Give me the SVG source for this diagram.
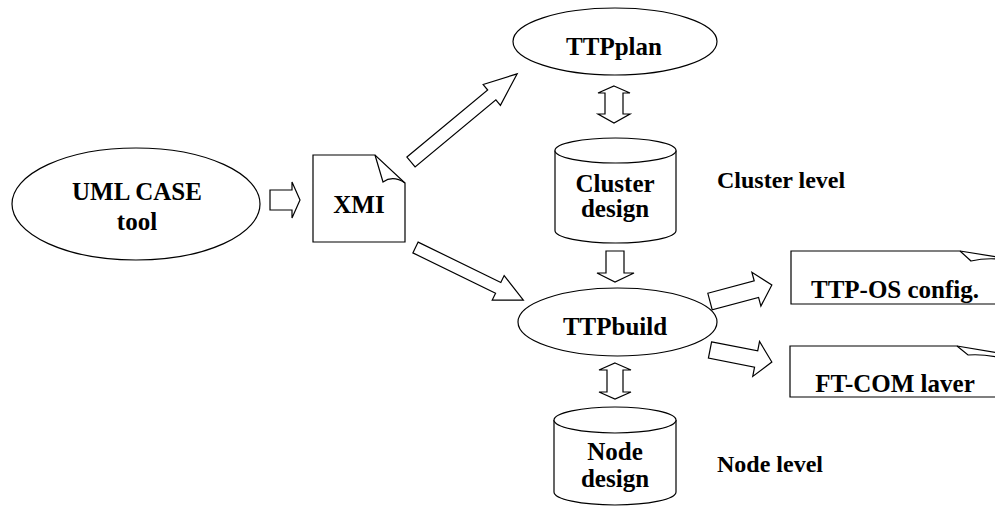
<svg xmlns="http://www.w3.org/2000/svg" width="995" height="506" viewBox="0 0 995 506">
<style>
.s{fill:#fff;stroke:#000;stroke-width:1.2;stroke-linejoin:miter}
.f{fill:none;stroke:#000;stroke-width:1.2}
text{font-family:'Liberation Serif','Times New Roman',Tinos,'DejaVu Serif',serif;font-weight:bold;fill:#000}
.t{font-size:25px;text-anchor:middle}
.l{font-size:24px}
</style>
<rect width="995" height="506" fill="#fff"/>
<g id="connectors">
<polygon class="s" points="0,-10 22,-10 22,-18 30,0 22,18 22,10 0,10" transform="translate(270,200)"/>
<polygon class="s" points="0,-6.4 105,-6.4 105,-13.5 138,0 105,13.5 105,6.4 0,6.4" transform="translate(411,162) rotate(-39.7)"/>
<polygon class="s" points="0,-6 92,-6 92,-13.6 120,0 92,13.6 92,6 0,6" transform="translate(415.5,247.5) rotate(26)"/>
<polygon class="s" points="0,-8.5 48,-8.5 48,-17.5 64,0 48,17.5 48,8.5 0,8.5" transform="translate(710,301.5) rotate(-14.9)"/>
<polygon class="s" points="0,-8.3 47,-8.3 47,-17.8 63,0 47,17.8 47,8.3 0,8.3" transform="translate(710,350) rotate(11)"/>
<polygon class="s" points="614,86 630,93 623,93 623,114 630,114 614,123 598,114 605,114 605,93 598,93"/>
<polygon class="s" points="606,251 624,251 624,273 634,273 615,282 597,273 606,273"/>
<polygon class="s" points="615,363 631,370 623,370 623,392 631,392 615,399 599,392 607,392 607,370 599,370"/>
</g>
<g id="uml">
<ellipse class="s" cx="136" cy="204" rx="124" ry="56"/>
<text class="t" x="137" y="200" font-family="Liberation Serif, serif">UML CASE</text>
<text class="t" x="137" y="230" font-family="Liberation Serif, serif">tool</text>
</g>
<g id="xmi">
<path class="s" d="M313,155 L375,155 L405,183 L405,242 L313,242 Z"/>
<path class="f" d="M375,155 L383,182 Q393,175 405,183"/>
<text class="t" x="359" y="213" font-family="Liberation Serif, serif">XMI</text>
</g>
<g id="ttpplan">
<ellipse class="s" cx="615" cy="41.5" rx="102" ry="33.5"/>
<text class="t" x="614" y="55" font-family="Liberation Serif, serif">TTPplan</text>
</g>
<g id="cluster">
<path class="s" d="M555,150.5 L555,230.5 A60.5,12.5 0 0 0 676,230.5 L676,150.5"/>
<ellipse class="s" cx="615.5" cy="150.5" rx="60.5" ry="12.5"/>
<text class="t" x="615" y="192" font-family="Liberation Serif, serif">Cluster</text>
<text class="t" x="615" y="217" font-family="Liberation Serif, serif">design</text>
</g>
<g id="cluster-level">
<text class="l" x="717" y="188" font-family="Liberation Serif, serif">Cluster level</text>
</g>
<g id="ttpbuild">
<ellipse class="s" cx="617.5" cy="322" rx="99.5" ry="34"/>
<text class="t" x="615" y="335" font-family="Liberation Serif, serif">TTPbuild</text>
</g>
<g id="node">
<path class="s" d="M554,420 L554,492 A61,13 0 0 0 676,492 L676,420"/>
<ellipse class="s" cx="615" cy="420" rx="61" ry="13"/>
<text class="t" x="615" y="460" font-family="Liberation Serif, serif">Node</text>
<text class="t" x="615" y="487" font-family="Liberation Serif, serif">design</text>
</g>
<g id="node-level">
<text class="l" x="717" y="472" font-family="Liberation Serif, serif">Node level</text>
</g>
<g id="ttpos">
<path class="s" d="M791,251 L960,251 L1010,259 L1010,304 L791,304 Z"/>
<path class="f" d="M960,251 L971,261 Q984,258 998,259"/>
<text class="t" x="895" y="298" font-family="Liberation Serif, serif">TTP-OS config.</text>
</g>
<g id="ftcom">
<path class="s" d="M790,346 L957,346 L1010,355 L1010,397 L790,397 Z"/>
<path class="f" d="M957,346 L968,355 Q982,354 997,357"/>
<text class="t" x="895" y="392" font-family="Liberation Serif, serif">FT-COM laver</text>
</g>
</svg>
